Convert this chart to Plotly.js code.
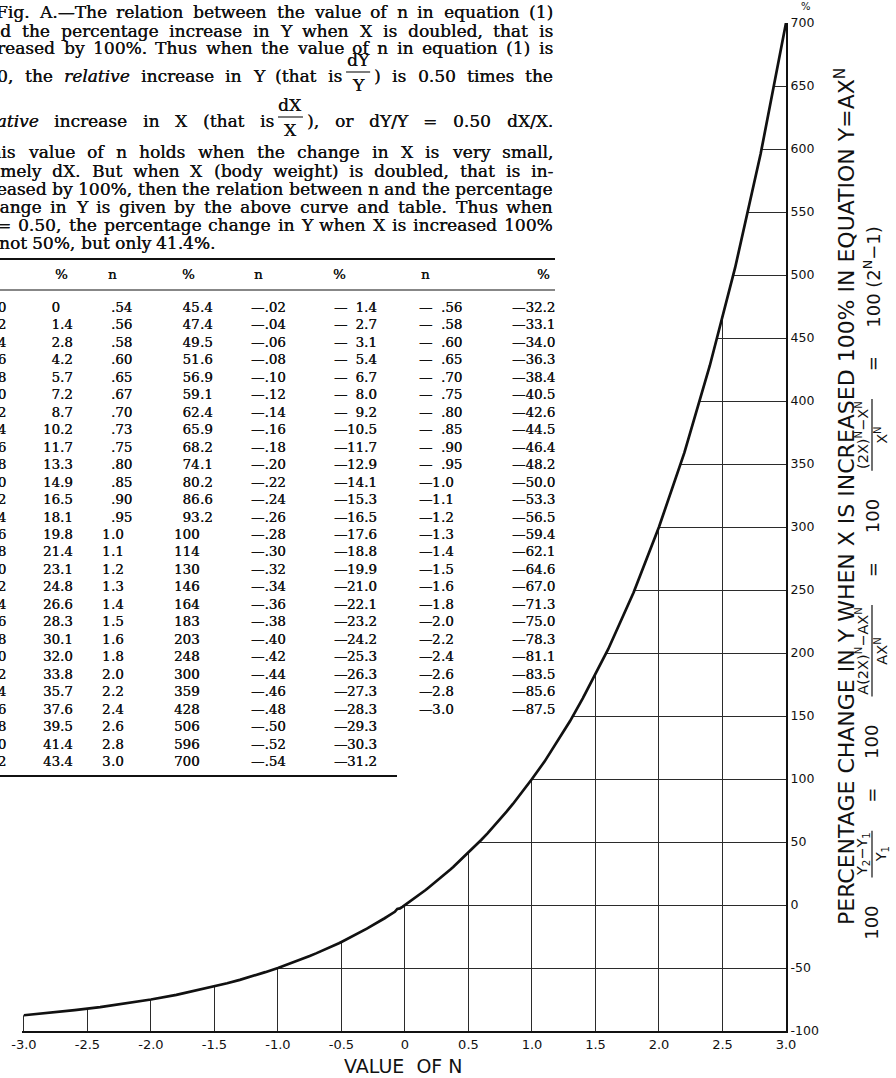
<!DOCTYPE html>
<html>
<head>
<meta charset="utf-8">
<title>Percentage change in Y when X is doubled</title>
<script src="https://cdn.plot.ly/plotly-3.0.1.min.js"></script>
<style>
  html, body { margin: 0; padding: 0; background: #ffffff; }
  #chart { width: 896px; height: 1078px; }
</style>
</head>
<body>
<div id="chart"></div>
<script>
// ---- Table: exponent n and percentage change in Y, in four printed blocks ----
const nBlock1 = [0, 0.02, 0.04, 0.06, 0.08, 0.10, 0.12, 0.14, 0.16, 0.18, 0.20, 0.22, 0.24, 0.26,
                 0.28, 0.30, 0.32, 0.34, 0.36, 0.38, 0.40, 0.42, 0.44, 0.46, 0.48, 0.50, 0.52];
const pctBlock1 = [0, 1.4, 2.8, 4.2, 5.7, 7.2, 8.7, 10.2, 11.7, 13.3, 14.9, 16.5, 18.1, 19.8,
                   21.4, 23.1, 24.8, 26.6, 28.3, 30.1, 32.0, 33.8, 35.7, 37.6, 39.5, 41.4, 43.4];
const nBlock2 = [0.54, 0.56, 0.58, 0.60, 0.65, 0.67, 0.70, 0.73, 0.75, 0.80, 0.85, 0.90, 0.95, 1.0,
                 1.1, 1.2, 1.3, 1.4, 1.5, 1.6, 1.8, 2.0, 2.2, 2.4, 2.6, 2.8, 3.0];
const pctBlock2 = [45.4, 47.4, 49.5, 51.6, 56.9, 59.1, 62.4, 65.9, 68.2, 74.1, 80.2, 86.6, 93.2, 100,
                   114, 130, 146, 164, 183, 203, 248, 300, 359, 428, 506, 596, 700];
const nBlock3 = [-0.02, -0.04, -0.06, -0.08, -0.10, -0.12, -0.14, -0.16, -0.18, -0.20, -0.22, -0.24,
                 -0.26, -0.28, -0.30, -0.32, -0.34, -0.36, -0.38, -0.40, -0.42, -0.44, -0.46, -0.48,
                 -0.50, -0.52, -0.54];
const pctBlock3 = [-1.4, -2.7, -3.1, -5.4, -6.7, -8.0, -9.2, -10.5, -11.7, -12.9, -14.1, -15.3,
                   -16.5, -17.6, -18.8, -19.9, -21.0, -22.1, -23.2, -24.2, -25.3, -26.3, -27.3, -28.3,
                   -29.3, -30.3, -31.2];
const nBlock4 = [-0.56, -0.58, -0.60, -0.65, -0.70, -0.75, -0.80, -0.85, -0.90, -0.95, -1.0, -1.1,
                 -1.2, -1.3, -1.4, -1.5, -1.6, -1.8, -2.0, -2.2, -2.4, -2.6, -2.8, -3.0];
const pctBlock4 = [-32.2, -33.1, -34.0, -36.3, -38.4, -40.5, -42.6, -44.5, -46.4, -48.2, -50.0, -53.3,
                   -56.5, -59.4, -62.1, -64.6, -67.0, -71.3, -75.0, -78.3, -81.1, -83.5, -85.6, -87.5];

// ---- Axis ticks ----
const xTickVals = [-3, -2.5, -2, -1.5, -1, -0.5, 0, 0.5, 1, 1.5, 2, 2.5, 3];
const xTickText = ['-3.0', '-2.5', '-2.0', '-1.5', '-1.0', '-0.5', '0', '0.5', '1.0', '1.5', '2.0', '2.5', '3.0'];
const yTickVals = [-100, -50, 0, 50, 100, 150, 200, 250, 300, 350, 400, 450, 500, 550, 600, 650, 700];
const yTickText = ['-100', '-50', '0', '50', '100', '150', '200', '250', '300', '350', '400', '450',
                   '500', '550', '600', '650', '700'];

// ---- Text ----
const tableHeaders = ['n', '%', 'n', '%', 'n', '%', 'n', '%'];
const captionLines = [
  'Fig. A.—The relation between the value of n in equation (1)',
  'and the percentage increase in Y when X is doubled, that is',
  'increased by 100%. Thus when the value of n in equation (1) is',
  '0.50, the <i>relative</i> increase in Y (that is {dY|Y} ) is 0.50 times the',
  '<i>relative</i> increase in X (that is {dX|X} ), or dY/Y = 0.50 dX/X.',
  'This value of n holds when the change in X is very small,',
  'namely dX. But when X (body weight) is doubled, that is in-',
  'creased by 100%, then the relation between n and the percentage',
  'change in Y is given by the above curve and table. Thus when',
  'n = 0.50, the percentage change in Y when X is increased 100%',
  'is not 50%, but only 41.4%.'
];
const yTitle = 'PERCENTAGE CHANGE IN Y WHEN X IS INCREASED 100% IN EQUATION Y=AX<sup>N</sup>';
const xTitle = 'VALUE  OF N';
const formulaPieces = [
  {text: '100'},
  {num: 'Y<sub>2</sub>−Y<sub>1</sub>', den: 'Y<sub>1</sub>'},
  {text: '='},
  {text: '100'},
  {num: 'A(2X)<sup>N</sup>−AX<sup>N</sup>', den: 'AX<sup>N</sup>'},
  {text: '='},
  {text: '100'},
  {num: '(2X)<sup>N</sup>−X<sup>N</sup>', den: 'X<sup>N</sup>'},
  {text: '='},
  {text: '100 (2<sup>N</sup>−1)'}
];

// ---- Page geometry (pixels) ----
const FIG_W = 896, FIG_H = 1078;
const MARGIN = {l: 22, r: 110, t: 23, b: 47};
const PLOT_W = FIG_W - MARGIN.l - MARGIN.r;
const PLOT_H = FIG_H - MARGIN.t - MARGIN.b;
const toPaperX = px => (px - MARGIN.l) / PLOT_W;
const toPaperY = py => (FIG_H - MARGIN.b - py) / PLOT_H;

const INK = '#111111';
const GRID = '#2b2b2b';
const SERIF = '"DejaVu Serif", "Liberation Serif", serif';
const SANS = '"DejaVu Sans", sans-serif';
const PRINT_SHADOW = '0.3px 0 0 #111111';

// ---- Text measuring (for justified caption lines and the rotated formula) ----
const measureCtx = document.createElement('canvas').getContext('2d');
function measureRich(str, size, family) {
  let w = 0, italic = false, scale = 1;
  str.split(/(<\/?(?:i|sup|sub)>)/).forEach(part => {
    if (part === '<i>') italic = true;
    else if (part === '</i>') italic = false;
    else if (part === '<sup>' || part === '<sub>') scale = 0.7;
    else if (part === '</sup>' || part === '</sub>') scale = 1;
    else if (part) {
      measureCtx.font = (italic ? 'italic ' : '') + (size * scale) + 'px ' + family;
      w += measureCtx.measureText(part).width;
    }
  });
  return w;
}

const annotations = [];
const shapes = [];

function addText(text, x, y, opts) {
  opts = opts || {};
  const font = {family: opts.family || SERIF, size: opts.size || 14, color: INK};
  if (opts.shadow) font.shadow = opts.shadow;
  annotations.push({
    xref: 'paper', yref: 'paper', x: toPaperX(x), y: toPaperY(y),
    text: text, showarrow: false,
    xanchor: opts.xanchor || 'left', yanchor: opts.yanchor || 'middle',
    align: opts.align || opts.xanchor || 'left',
    textangle: opts.angle || 0,
    borderpad: 0, borderwidth: 0,
    font: font
  });
}
function addRule(x0, y0, x1, y1, width) {
  shapes.push({
    type: 'line', xref: 'paper', yref: 'paper', layer: 'above',
    x0: toPaperX(x0), y0: toPaperY(y0), x1: toPaperX(x1), y1: toPaperY(y1),
    line: {color: INK, width: width}
  });
}

// ---- Caption paragraph, justified between fixed margins ----
const CAP_LEFT = -21, CAP_RIGHT = 553, CAP_INDENT = 17, CAP_SIZE = 17, FRAC_GAP = 4;
const capLineY = [12, 31, 48, 76, 121, 152, 171, 189, 207, 225, 243];
const capLineShift = [0, 0, -8, -9, -6, 0, 0, 0, 0, 0, 0];
captionLines.forEach((line, i) => {
  const y = capLineY[i];
  const toks = line.split(' ').map(t => {
    const m = t.match(/^\{(.+)\|(.+)\}$/);
    return m ? {num: m[1], den: m[2]} : {text: t};
  });
  toks.forEach(t => {
    t.w = t.text !== undefined
      ? measureRich(t.text, CAP_SIZE, SERIF)
      : Math.max(measureRich(t.num, CAP_SIZE, SERIF), measureRich(t.den, CAP_SIZE, SERIF)) + 2;
  });
  const left = CAP_LEFT + capLineShift[i] + (i === 0 ? CAP_INDENT : 0);
  let fixed = 0, stretch = 0;
  for (let k = 1; k < toks.length; k++) {
    if (toks[k].num || toks[k - 1].num) fixed += FRAC_GAP; else stretch++;
  }
  const total = toks.reduce((s, t) => s + t.w, 0);
  const justify = i < captionLines.length - 1;
  const space = justify ? (CAP_RIGHT - left - total - fixed) / stretch : measureRich(' ', CAP_SIZE, SERIF);
  let x = left;
  toks.forEach((t, k) => {
    if (k > 0) x += (t.num || toks[k - 1].num) ? FRAC_GAP : space;
    if (t.text !== undefined) {
      addText(t.text, x, y, {size: CAP_SIZE, shadow: PRINT_SHADOW});
    } else {
      addText(t.num, x + t.w / 2, y - 16, {size: CAP_SIZE, xanchor: 'center', shadow: PRINT_SHADOW});
      addText(t.den, x + t.w / 2, y + 9, {size: CAP_SIZE, xanchor: 'center', shadow: PRINT_SHADOW});
      addRule(x, y - 4, x + t.w, y - 4, 1.1);
    }
    x += t.w;
  });
});

// ---- Table ----
const ROW0 = 308, ROWH = 17.46, TABLE_SIZE = ROWH / 1.3;
const fmtN = v => {
  const a = Math.abs(v);
  if (a === 0) return '0';
  return a < 1 ? '.' + a.toFixed(2).split('.')[1] : a.toFixed(1);
};
const fmtPct = v => {
  const a = Math.abs(v);
  if (a === 0) return '0';
  return a >= 100 ? String(Math.round(a)) : a.toFixed(1);
};
const intPart = s => (s.indexOf('.') < 0 ? s : s.slice(0, s.indexOf('.'))) || '\u00a0';
const fracPart = s => (s.indexOf('.') < 0 ? '' : s.slice(s.indexOf('.'))) || '\u00a0';

function addColumn(lines, x, anchor) {
  addText(lines.join('<br>'), x, ROW0 + (lines.length - 1) * ROWH / 2,
          {size: TABLE_SIZE, xanchor: anchor, align: anchor, shadow: PRINT_SHADOW});
}
function addDecimalColumn(strings, decX) {
  addColumn(strings.map(intPart), decX, 'right');
  addColumn(strings.map(fracPart), decX, 'left');
}
const twoDigitW = measureRich('10.5', TABLE_SIZE, SERIF);
const digitW = measureRich('1', TABLE_SIZE, SERIF);

addColumn(nBlock1.map(fmtN), 6, 'right');
addDecimalColumn(pctBlock1.map(fmtPct), 59.5);
addDecimalColumn(nBlock2.map(fmtN), 110.5);
addDecimalColumn(pctBlock2.map(fmtPct), 200);
addColumn(nBlock3.map(v => '—' + fmtN(v)), 286, 'right');
addColumn(pctBlock3.map(() => '—'), 377 - twoDigitW - 0.5, 'right');
addColumn(pctBlock3.map(fmtPct), 377, 'right');
addColumn(nBlock4.map(() => '—'), 441 - digitW - 0.5, 'right');
addDecimalColumn(nBlock4.map(fmtN), 441);
addColumn(pctBlock4.map(v => '—' + fmtPct(v)), 555, 'right');

const headerX = [-12, 61, 112, 188, 258, 339, 425, 543];
tableHeaders.forEach((h, i) => addText(h, headerX[i], 274, {size: TABLE_SIZE, xanchor: 'center', shadow: PRINT_SHADOW}));
addRule(-30, 259, 555, 259, 2);
addRule(-30, 290, 555, 290, 1.2);
addRule(-30, 776, 397, 776, 2);

// ---- Axis lettering ----
addText(xTitle, 403, 1066, {family: SANS, size: 19, xanchor: 'center'});
addText('%', 806, 6, {family: SANS, size: 10, xanchor: 'center'});
addText(yTitle, 845, 497, {family: SANS, size: 22, xanchor: 'center', angle: -90});

// Formula beside the title, read bottom to top
const F_X = 872, F_BOTTOM = 940, F_TOP = 226, F_MAIN = 18, F_FRAC = 14.5;
formulaPieces.forEach(p => {
  p.w = p.text !== undefined
    ? measureRich(p.text, F_MAIN, SANS)
    : Math.max(measureRich(p.num, F_FRAC, SANS), measureRich(p.den, F_FRAC, SANS)) + 4;
});
const fSum = formulaPieces.reduce((s, p) => s + p.w, 0);
const fGap = (F_BOTTOM - F_TOP - fSum) / (formulaPieces.length - 1);
let fCursor = F_BOTTOM;
formulaPieces.forEach(p => {
  const cy = fCursor - p.w / 2;
  if (p.text !== undefined) {
    addText(p.text, F_X, cy, {family: SANS, size: F_MAIN, xanchor: 'center', angle: -90});
  } else {
    addText(p.num + '<br>' + p.den, F_X, cy, {family: SANS, size: F_FRAC, xanchor: 'center', align: 'center', angle: -90});
    addRule(F_X, cy - p.w / 2, F_X, cy + p.w / 2, 1.2);
  }
  fCursor -= p.w + fGap;
});

// ---- Curve data, ordered by n ----
const pts = [];
[[nBlock1, pctBlock1], [nBlock2, pctBlock2], [nBlock3, pctBlock3], [nBlock4, pctBlock4]]
  .forEach(([ns, ps]) => ns.forEach((n, i) => pts.push([n, ps[i]])));
pts.sort((a, b) => a[0] - b[0]);
const curveN = pts.map(p => p[0]);
const curvePct = pts.map(p => p[1]);

const X_RANGE = [-3.015, 3];
const Y_RANGE = [-100, 700];

const data = [
  // white cover over the grid above and left of the curve
  {
    type: 'scatter', mode: 'lines',
    x: curveN.concat([X_RANGE[0] - 0.05, X_RANGE[0] - 0.05]),
    y: curvePct.concat([Y_RANGE[1], curvePct[0]]),
    fill: 'toself', fillcolor: '#ffffff',
    line: {width: 0, color: 'rgba(0,0,0,0)'},
    hoverinfo: 'skip'
  },
  {
    type: 'scatter', mode: 'lines',
    x: curveN, y: curvePct,
    line: {color: INK, width: 2.7},
    cliponaxis: false,
    hoverinfo: 'skip'
  }
];

const layout = {
  width: FIG_W, height: FIG_H,
  margin: {l: MARGIN.l, r: MARGIN.r, t: MARGIN.t, b: MARGIN.b, pad: 0},
  paper_bgcolor: '#ffffff', plot_bgcolor: '#ffffff',
  showlegend: false,
  xaxis: {
    range: X_RANGE, tickmode: 'array', tickvals: xTickVals, ticktext: xTickText,
    showgrid: true, gridcolor: GRID, gridwidth: 1, zeroline: false,
    showline: true, linecolor: INK, linewidth: 2.4, ticks: '',
    tickfont: {family: SANS, size: 13, color: INK},
    automargin: false, fixedrange: true
  },
  yaxis: {
    range: Y_RANGE, side: 'right', tickmode: 'array', tickvals: yTickVals, ticktext: yTickText,
    showgrid: true, gridcolor: GRID, gridwidth: 1, zeroline: false,
    showline: true, linecolor: INK, linewidth: 2, ticks: '',
    tickfont: {family: SANS, size: 12.5, color: INK},
    automargin: false, fixedrange: true
  },
  annotations: annotations,
  shapes: shapes
};

Plotly.newPlot('chart', data, layout, {displayModeBar: false, staticPlot: true});
</script>
</body>
</html>
